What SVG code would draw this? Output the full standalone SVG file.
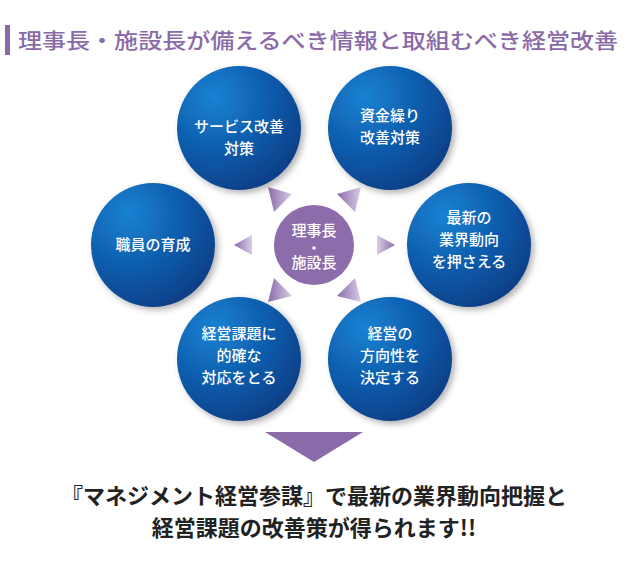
<svg xmlns="http://www.w3.org/2000/svg" width="629" height="570" viewBox="0 0 629 570">
<defs>
<radialGradient id="bg" cx="0.3" cy="0.25" r="0.85"><stop offset="0" stop-color="#1a82d2"/><stop offset="0.55" stop-color="#0d5aaa"/><stop offset="1" stop-color="#093c82"/></radialGradient>
<linearGradient id="tg" x1="0" y1="0" x2="1" y2="0"><stop offset="0" stop-color="#8b6aab"/><stop offset="1" stop-color="#d9cde6"/></linearGradient>
<linearGradient id="tg2" x1="1" y1="0" x2="0" y2="0"><stop offset="0" stop-color="#8b6aab"/><stop offset="1" stop-color="#d9cde6"/></linearGradient>
<filter id="sh" x="-20%" y="-20%" width="150%" height="150%"><feDropShadow dx="3" dy="3" stdDeviation="3" flood-color="#000" flood-opacity="0.3"/></filter>
</defs>
<style>
.c{fill:url(#bg);filter:url(#sh)}
.t{font-family:"Noto Sans CJK JP",sans-serif;font-size:15px;fill:#fff;text-anchor:middle;font-weight:500}
.a{fill:url(#tg)}
</style>
<rect width="629" height="570" fill="#fff"/>
<rect x="5" y="25" width="5" height="30" fill="#8a6aa8"/>
<text x="18" y="48" font-family="Noto Sans CJK JP,sans-serif" font-size="21" font-weight="500" fill="#8a6aa8" textLength="600" lengthAdjust="spacingAndGlyphs">理事長・施設長が備えるべき情報と取組むべき経営改善</text>
<g id="n1"><circle class="c" cx="239" cy="128" r="62"/><text class="t" x="239" y="132">サービス改善</text><text class="t" x="239" y="154">対策</text></g>
<g id="n2"><circle class="c" cx="390" cy="128" r="62"/><text class="t" x="390" y="121">資金繰り</text><text class="t" x="390" y="143">改善対策</text></g>
<g id="n3"><circle class="c" cx="153" cy="245" r="62"/><text class="t" x="153" y="250">職員の育成</text></g>
<g id="n4"><circle class="c" cx="469" cy="245" r="62"/><text class="t" x="469" y="223">最新の</text><text class="t" x="469" y="245">業界動向</text><text class="t" x="469" y="267">を押さえる</text></g>
<g id="n5"><circle class="c" cx="239" cy="359" r="62"/><text class="t" x="239" y="339">経営課題に</text><text class="t" x="239" y="361">的確な</text><text class="t" x="239" y="383">対応をとる</text></g>
<g id="n6"><circle class="c" cx="390" cy="359" r="62"/><text class="t" x="390" y="339">経営の</text><text class="t" x="390" y="361">方向性を</text><text class="t" x="390" y="383">決定する</text></g>
<g id="center"><circle cx="314" cy="245" r="40" fill="#8d6cab"/><text class="t" x="314" y="236">理事長</text><circle cx="314" cy="248" r="1.8" fill="#fff"/><text class="t" x="314" y="268">施設長</text></g>
<g id="connectors">
<polygon class="a" points="234,245 252,235 252,255"/>
<polygon points="395,245 377,235 377,255" fill="url(#tg2)"/>
<polygon class="a" points="268,187 292,194 274,212"/>
<polygon class="a" points="361,187 337,194 355,212"/>
<polygon class="a" points="268,302 274,278 292,296"/>
<polygon class="a" points="361,302 355,278 337,296"/>
<polygon points="265,432 363,432 314,462" fill="#8a6aa8"/>
</g>
<text x="314" y="504" font-family="Noto Sans CJK JP,sans-serif" font-size="22" font-weight="bold" fill="#222" text-anchor="middle">『マネジメント経営参謀』で最新の業界動向把握と</text>
<text x="314" y="536" font-family="Noto Sans CJK JP,sans-serif" font-size="22" font-weight="bold" fill="#222" text-anchor="middle">経営課題の改善策が得られます!!</text>
</svg>
